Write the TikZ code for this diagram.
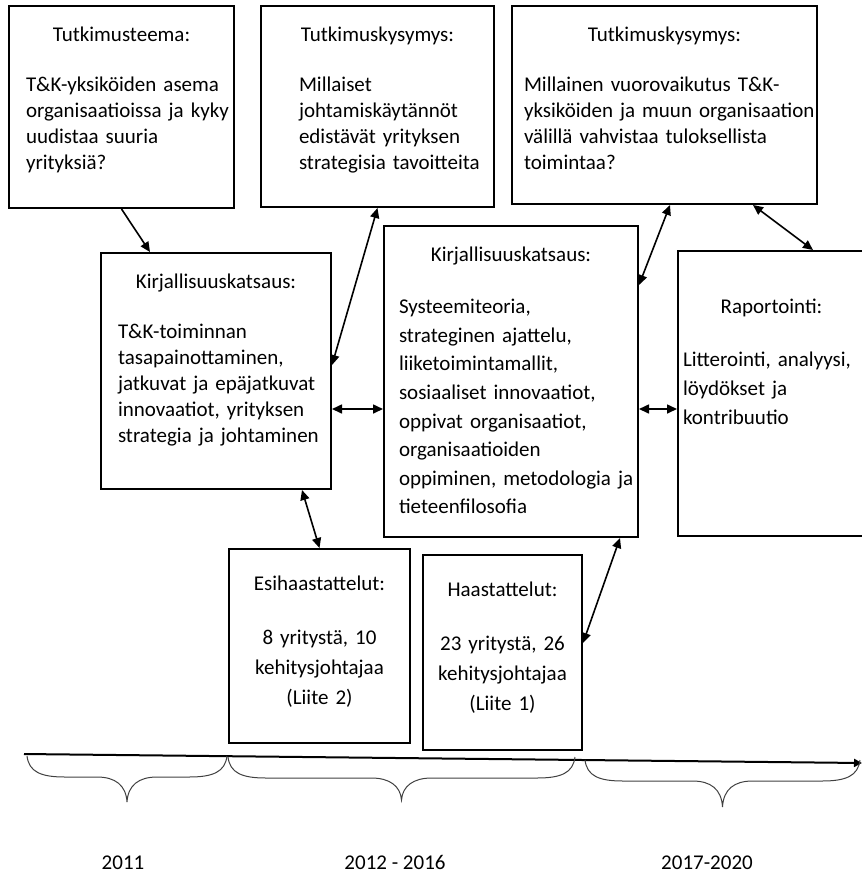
\documentclass[tikz,border=0pt]{standalone}
\usepackage{fontspec}
\setmainfont{Carlito}
\usetikzlibrary{arrows.meta}
\hyphenpenalty=10000
\exhyphenpenalty=10000
\hfuzz=30pt

\tikzset{
  stagebox/.style={draw, line width=1pt, anchor=north west, inner ysep=0pt,
    inner xsep=8.5pt, font=\fontsize{10.5}{13}\selectfont},
  twoway/.style={line width=0.8pt,
    {Triangle[length=5pt,width=4.5pt]}-{Triangle[length=5pt,width=4.5pt]}},
  oneway/.style={line width=0.8pt, -{Triangle[length=5pt,width=4.5pt]}},
  bracket/.style={line width=0.5pt, black!75},
  year/.style={anchor=base, font=\fontsize{10.5}{13}\selectfont},
}

% box heading, centred, then a gap before the ragged body
\newcommand\boxhead[1]{{\centering #1\par}\vspace{12pt}%
  \raggedright\rightskip=-30pt plus 1fil\relax}

% curly brace under the time line: left x, right x, top y, tip y
\newcommand\timebrace[4]{%
  \pgfmathsetmacro\brmid{(#1+#2)/2}
  \pgfmathsetmacro\brflat{#3+21}
  \draw[bracket] (#1,#3) .. controls (#1+2,#3+16) and (#1+14,\brflat) .. (#1+38,\brflat)
    -- (\brmid-30,\brflat) .. controls (\brmid-12,\brflat) and (\brmid-1,\brflat+8) .. (\brmid,#4)
    .. controls (\brmid+1,\brflat+8) and (\brmid+12,\brflat) .. (\brmid+30,\brflat)
    -- (#2-38,\brflat) .. controls (#2-14,\brflat) and (#2-2,#3+16) .. (#2,#3);
}

\begin{document}
\begin{tikzpicture}[x=0.5pt,y=-0.5pt]
  \useasboundingbox (0,0) rectangle (862,874);

  % research questions
  \node[stagebox, text width=95.5pt, text height=17.5pt, text depth=83.5pt] (theme) at (8,5)
    {\boxhead{Tutkimusteema:}T\&K-yksiköiden asema\\organisaatioissa ja kyky\\uudistaa suuria\\yrityksiä?\par};
  \node[stagebox, inner xsep=19pt, text width=78.5pt, text height=17.5pt, text depth=83pt] (question1) at (260,5)
    {\boxhead{Tutkimuskysymys:}Millaiset\\johtamiskäytännöt\\edistävät yrityksen\\strategisia tavoitteita\par};
  \node[stagebox, inner xsep=6pt, text width=140.5pt, text height=17.5pt, text depth=81.5pt] (question2) at (511,5)
    {\boxhead{Tutkimuskysymys:}Millainen vuorovaikutus T\&K-\\yksiköiden ja muun organisaation\\välillä vahvistaa tuloksellista\\toimintaa?\par};

  % literature and reporting
  \node[stagebox, text width=98pt, text height=17.5pt, text depth=100.5pt] (review1) at (100,252)
    {\boxhead{Kirjallisuuskatsaus:}T\&K-toiminnan\\tasapainottaminen,\\jatkuvat ja epäjatkuvat\\innovaatiot, yrityksen\\strategia ja johtaminen\par};
  \node[stagebox, inner xsep=7.5pt, text width=112pt, text height=17.5pt, text depth=138pt,
    font=\fontsize{10.5}{14.3}\selectfont] (review2) at (383,225)
    {\boxhead{Kirjallisuuskatsaus:}Systeemiteoria,\\strateginen ajattelu,\\liiketoimintamallit,\\sosiaaliset innovaatiot,\\oppivat organisaatiot,\\organisaatioiden\\oppiminen, metodologia ja\\tieteenfilosofia\par};
  \node[stagebox, inner xsep=2.5pt, text width=88.5pt, text height=31pt, text depth=111.5pt,
    font=\fontsize{10.5}{14.5}\selectfont] (report) at (677,250)
    {\boxhead{Raportointi:}Litterointi, analyysi,\\löydökset ja\\kontribuutio\par};

  % interviews
  \node[stagebox, inner xsep=5pt, text width=80.5pt, text height=20.5pt, text depth=76.5pt,
    font=\fontsize{10.5}{15}\selectfont] (preint) at (228,548)
    {\boxhead{Esihaastattelut:}\centering 8 yritystä, 10\\kehitysjohtajaa\\(Liite 2)\par};
  \node[stagebox, inner xsep=5pt, text width=69.5pt, text height=20.5pt, text depth=77pt,
    font=\fontsize{10.5}{15}\selectfont] (interv) at (422,554)
    {\boxhead{Haastattelut:}\centering 23 yritystä, 26\\kehitysjohtajaa\\(Liite 1)\par};

  % connectors
  \draw[oneway] (theme.south) -- ([xshift=25pt]review1.north west);
  \draw[twoway] ([yshift=-56.5pt]review1.north east) -- (question1.south);
  \coordinate (leftmid) at ([yshift=-19pt]review1.east);
  \draw[twoway] (leftmid) -- (leftmid -| review2.west);
  \draw[twoway] ([yshift=-30pt]review2.north east) -- ([xshift=79.5pt]question2.south west);
  \draw[twoway] ([xshift=121pt]question2.south west) -- ([xshift=68pt]report.north west);
  \coordinate (rightmid) at ([yshift=-13.75pt]review2.east);
  \draw[twoway] (rightmid) -- (rightmid -| report.west);
  \draw[twoway] ([xshift=101pt]review1.south west) -- (preint.north);
  \draw[twoway] ([xshift=-9.5pt]review2.south east) -- ([yshift=-44.5pt]interv.north east);

  % time line
  \coordinate (tstart) at (24,754);
  \coordinate (tend) at (862,763);
  \draw[line width=1pt, -{Triangle[length=4pt,width=4pt]}] (tstart) -- (tend);
  \timebrace{27}{227}{756}{802}
  \timebrace{228}{575}{757}{800}
  \timebrace{585}{860}{760}{807}

  \node[year] (y2011) at (123,869) {2011};
  \node[year] (y2012) at (395,869) {2012 - 2016};
  \node[year] (y2017) at (707,869) {2017-2020};
\end{tikzpicture}
\end{document}
